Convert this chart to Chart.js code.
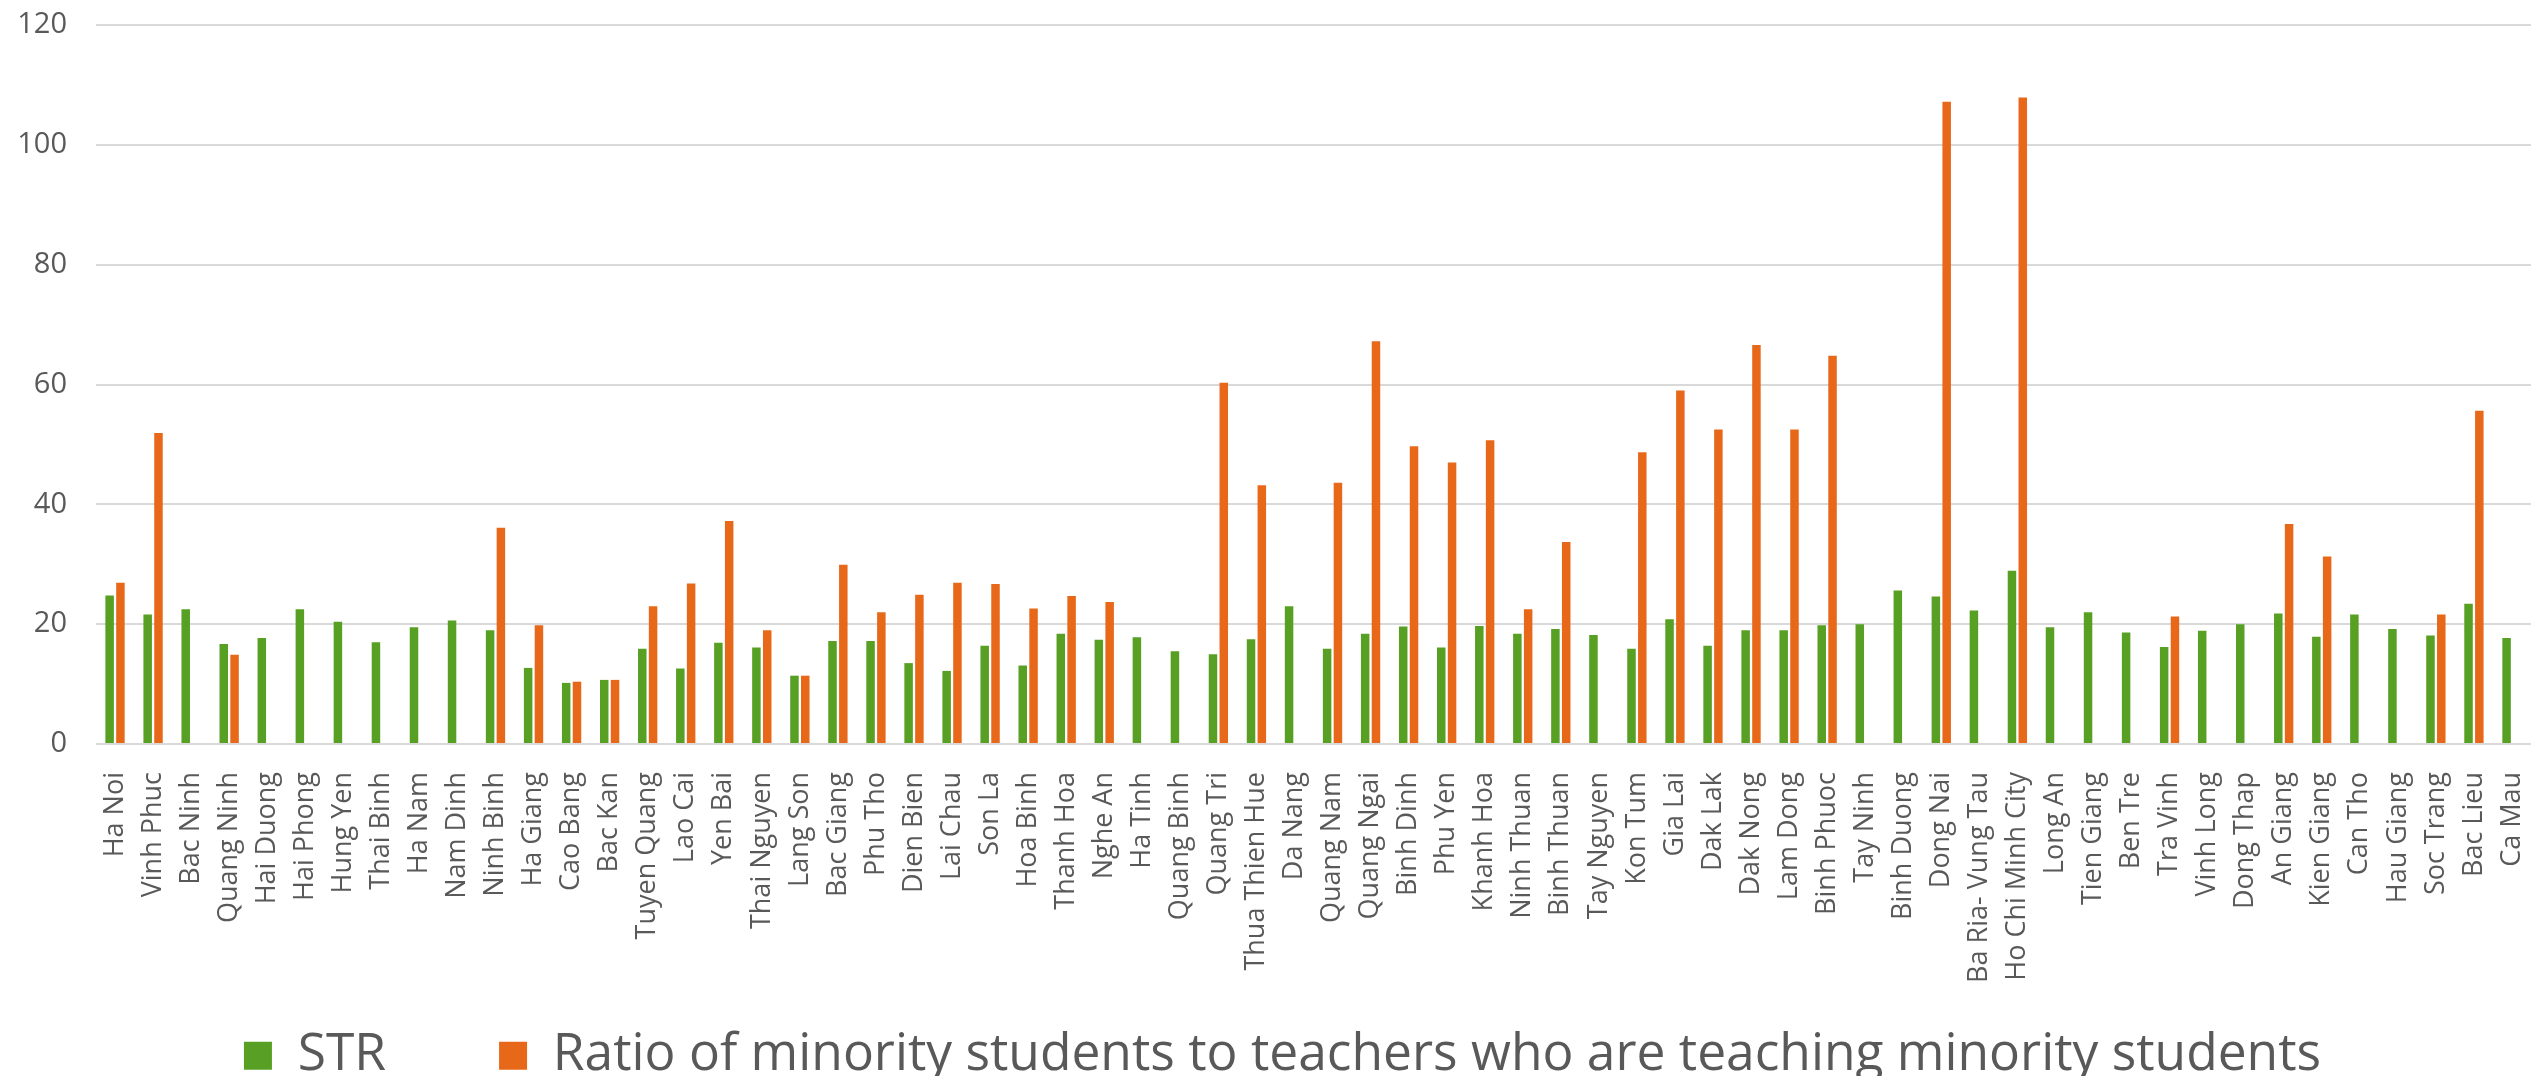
<!DOCTYPE html>
<html>
<head>
<meta charset="utf-8">
<script src="https://cdn.jsdelivr.net/npm/chart.js@4/dist/chart.umd.min.js"></script>
<style>
  html, body { margin: 0; padding: 0; background: #ffffff; }
  #wrap { width: 2539px; height: 1076px; }
</style>
</head>
<body>
<div id="wrap"><canvas id="c" width="2539" height="1076"></canvas></div>
<script>
const categories = [
  "Ha Noi", "Vinh Phuc", "Bac Ninh", "Quang Ninh", "Hai Duong", "Hai Phong", "Hung Yen", "Thai Binh",
  "Ha Nam", "Nam Dinh", "Ninh Binh", "Ha Giang", "Cao Bang", "Bac Kan", "Tuyen Quang", "Lao Cai",
  "Yen Bai", "Thai Nguyen", "Lang Son", "Bac Giang", "Phu Tho", "Dien Bien", "Lai Chau", "Son La",
  "Hoa Binh", "Thanh Hoa", "Nghe An", "Ha Tinh", "Quang Binh", "Quang Tri", "Thua Thien Hue", "Da Nang",
  "Quang Nam", "Quang Ngai", "Binh Dinh", "Phu Yen", "Khanh Hoa", "Ninh Thuan", "Binh Thuan", "Tay Nguyen",
  "Kon Tum", "Gia Lai", "Dak Lak", "Dak Nong", "Lam Dong", "Binh Phuoc", "Tay Ninh", "Binh Duong",
  "Dong Nai", "Ba Ria- Vung Tau", "Ho Chi Minh City", "Long An", "Tien Giang", "Ben Tre", "Tra Vinh", "Vinh Long",
  "Dong Thap", "An Giang", "Kien Giang", "Can Tho", "Hau Giang", "Soc Trang", "Bac Lieu", "Ca Mau"
];

const strValues = [
  24.8, 21.6, 22.5, 16.7, 17.7, 22.5, 20.4, 17.0,
  19.5, 20.6, 19.0, 12.7, 10.2, 10.7, 15.9, 12.6,
  16.9, 16.1, 11.4, 17.2, 17.2, 13.5, 12.2, 16.4,
  13.1, 18.4, 17.4, 17.8, 15.5, 15.0, 17.5, 23.0,
  15.9, 18.4, 19.6, 16.1, 19.7, 18.4, 19.2, 18.2,
  15.9, 20.8, 16.4, 19.0, 19.0, 19.8, 20.0, 25.6,
  24.6, 22.3, 28.9, 19.5, 22.0, 18.6, 16.2, 18.9,
  20.0, 21.8, 17.9, 21.6, 19.2, 18.1, 23.4, 17.7
];

const minorityValues = [
  26.9, 51.9, null, 14.9, null, null, null, null,
  null, null, 36.1, 19.8, 10.4, 10.7, 23.0, 26.8,
  37.2, 19.0, 11.4, 29.9, 22.0, 24.9, 26.9, 26.7,
  22.6, 24.7, 23.7, null, null, 60.3, 43.2, null,
  43.6, 67.2, 49.7, 47.0, 50.7, 22.5, 33.7, null,
  48.7, 59.0, 52.5, 66.6, 52.5, 64.8, null, null,
  107.2, null, 107.9, null, null, null, 21.3, null,
  null, 36.7, 31.3, null, null, 21.6, 55.6, null
];

const seriesNames = ["STR", "Ratio of minority students to teachers who are teaching minority students"];
const yTicks = [0, 20, 40, 60, 80, 100, 120];

const FONT = "'Open Sans', 'DejaVu Sans', sans-serif";
const TEXT = "#595959";

const legendShift = {
  id: "legendShift",
  afterLayout(chart) {
    if (chart.legend) {
      chart.legend.left += 17;
      chart.legend.right += 17;
    }
  }
};

new Chart(document.getElementById("c"), {
  type: "bar",
  data: {
    labels: categories,
    datasets: [
      { label: seriesNames[0], data: strValues, backgroundColor: "#57A023",
        categoryPercentage: 0.568, barPercentage: 0.787 },
      { label: seriesNames[1], data: minorityValues, backgroundColor: "#E8681A",
        categoryPercentage: 0.568, barPercentage: 0.787 }
    ]
  },
  plugins: [legendShift],
  options: {
    responsive: false,
    devicePixelRatio: 1,
    animation: false,
    layout: { padding: { top: 25, right: 8, left: 0, bottom: 0 } },
    plugins: {
      tooltip: { enabled: false },
      legend: {
        position: "bottom",
        maxHeight: 159,
        labels: {
          boxWidth: 28,
          boxHeight: 28,
          padding: 113,
          color: TEXT,
          font: { family: FONT, size: 51.5 }
        }
      }
    },
    scales: {
      x: {
        grid: { display: false, drawTicks: false },
        border: { display: false },
        ticks: {
          autoSkip: false,
          maxRotation: 90,
          minRotation: 90,
          padding: 28,
          color: TEXT,
          font: { family: FONT, size: 27 }
        },
        afterFit: (s) => {
          s.height = 173;
          s.paddingLeft = 0;
          s.paddingRight = 0;
          s._computeLabelArea = () => undefined;
        }
      },
      y: {
        min: 0,
        max: 120,
        afterBuildTicks: (s) => { s.ticks = yTicks.map(v => ({ value: v })); },
        grid: { color: "#d9d9d9", lineWidth: 2, drawTicks: false },
        border: { display: false },
        ticks: {
          padding: 29,
          color: TEXT,
          font: { family: FONT, size: 29 }
        },
        afterFit: (s) => {
          s.width = 96;
          s.paddingTop = 0;
          s.paddingBottom = 0;
        }
      }
    }
  }
});
</script>
</body>
</html>
